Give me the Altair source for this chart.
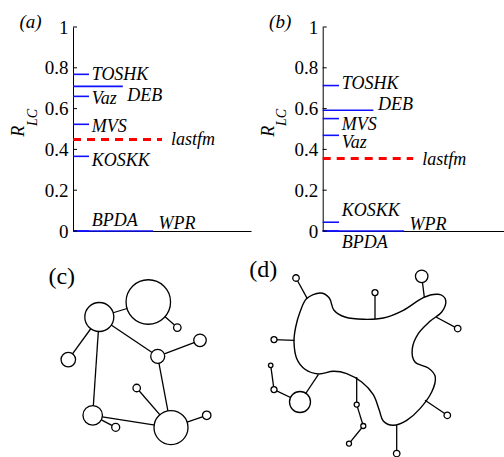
import altair as alt
import pandas as pd

FONT = "Liberation Serif"
BLUE = "#1010ff"

# ---------------- panels (a) and (b): R_LC per method ----------------
methods = ["TOSHK", "DEB", "Vaz", "MVS", "KOSKK", "BPDA", "WPR"]
rlc_a = [0.768, 0.709, 0.660, 0.523, 0.366, 0.0, 0.0]
rlc_b = [0.713, 0.592, 0.469, 0.551, 0.043, 0.0, 0.0]
line_len = [0.09, 0.28, 0.09, 0.09, 0.09, 0.09, 0.45]
label_x = [0.105, 0.305, 0.105, 0.105, 0.105, 0.105, 0.48]
label_y_a = [0.763, 0.660, 0.648, 0.510, 0.342, 0.048, 0.033]
label_y_b = [0.720, 0.620, 0.430, 0.520, 0.096, -0.060, 0.030]

ref_name = ["lastfm"]
ref_a = [0.448]
ref_b = [0.355]
ref_len = [0.5]
ref_label_x = [0.55]
ref_label_y_a = [0.445]
ref_label_y_b = [0.349]

yticks = [0, 0.2, 0.4, 0.6, 0.8, 1]

# ---------------- panel (c): small network ----------------
c_x = [148.3, 99.3, 177.3, 68.3, 157.7, 200.0, 136.7, 92.7, 115.7, 171.0, 206.7]
c_y = [158.3, 143.3, 132.7, 100.7, 104.0, 120.0, 72.3, 45.0, 33.0, 32.7, 45.0]
c_d = [44.5, 29.0, 7.5, 14.5, 14.0, 12.5, 7.5, 19.5, 8.0, 34.0, 8.5]
c_src = [1, 0, 1, 1, 4, 1, 4, 6, 7, 7, 9]
c_dst = [0, 2, 3, 4, 5, 7, 9, 9, 9, 8, 10]

# ---------------- panel (d): community blob with satellites ----------------
blob_x = [306.7, 320.0, 329.3, 334.0, 345.0, 363.3, 383.3, 403.3, 423.3, 438.3,
          445.7, 441.7, 430.0, 418.3, 412.3, 415.0, 428.3, 435.3, 431.7, 420.0,
          406.7, 393.3, 383.3, 379.3, 373.3, 361.7, 346.7, 333.3, 318.3, 305.0,
          296.7, 294.0, 295.7, 300.0]
blob_y = [161.7, 167.3, 162.3, 150.0, 143.3, 141.0, 142.3, 150.0, 162.7, 166.0,
          160.0, 148.3, 139.0, 126.7, 111.7, 98.3, 92.3, 83.3, 68.3, 51.7,
          40.0, 35.0, 39.3, 50.0, 65.7, 78.3, 86.7, 89.0, 86.3, 91.0,
          101.7, 118.3, 133.3, 148.3]
d_x = [296.0, 375.0, 421.7, 457.7, 274.0, 300.0, 274.0, 270.7, 356.7, 363.3, 349.0, 447.3, 396.7]
d_y = [182.3, 167.7, 184.0, 131.7, 120.7, 58.3, 70.7, 95.0, 55.7, 34.3, 16.7, 45.0, 6.7]
d_d = [6.5, 6.0, 12.5, 6.5, 6.0, 21.0, 6.0, 4.5, 5.0, 5.0, 5.0, 6.5, 6.5]
stub_x1 = [307.3, 375.0, 424.3, 436.0, 294.3, 318.3, 300.0, 274.0, 356.7, 356.7, 363.3, 425.0, 396.7]
stub_y1 = [161.7, 141.3, 163.3, 143.3, 120.0, 85.7, 58.3, 70.7, 83.3, 55.7, 34.3, 60.0, 35.0]
stub_x2 = [296.0, 375.0, 421.7, 457.7, 274.0, 300.0, 274.0, 270.7, 356.7, 363.3, 349.0, 447.3, 396.7]
stub_y2 = [182.3, 167.7, 184.0, 131.7, 120.7, 58.3, 70.7, 95.0, 55.7, 34.3, 16.7, 45.0, 6.7]

W_A, W_B, H_TOP, H_BOT = 178, 181, 204, 212


def text_one(s, x, y, size, style="normal", angle=0):
    return alt.Chart(pd.DataFrame({"t": [s]})).mark_text(
        font=FONT, fontSize=size, fontStyle=style, angle=angle,
        align="center", baseline="middle", color="black"
    ).encode(text="t:N", x=alt.value(x), y=alt.value(y))


def rlc_panel(vals, lab_y, rv, rly, tag, width):
    xs = alt.Scale(domain=[0, 1])
    ys = alt.Scale(domain=[0, 1])
    df = pd.DataFrame({"method": methods, "rlc": vals, "x0": [0] * len(methods),
                       "len": line_len, "lx": label_x, "ly": lab_y})
    rf = pd.DataFrame({"name": ref_name, "rlc": rv, "x0": [0], "len": ref_len,
                       "lx": ref_label_x, "ly": rly})
    lines = alt.Chart(df).mark_rule(color=BLUE, strokeWidth=1.6).encode(
        x=alt.X("x0:Q", scale=xs,
                axis=alt.Axis(labels=False, ticks=False, title=None, grid=False,
                              domainColor="black", domainWidth=1)),
        x2="len:Q",
        y=alt.Y("rlc:Q", scale=ys,
                axis=alt.Axis(values=yticks, ticks=False, labelPadding=5, labelFont=FONT,
                              labelFontSize=19, labelColor="black", format="~g",
                              title=None, grid=False, domainColor="black", domainWidth=1)),
    )
    ticks = alt.Chart(pd.DataFrame({"t": yticks})).mark_rule(color="black", strokeWidth=1).encode(
        y=alt.Y("t:Q", scale=ys), x=alt.value(0), x2=alt.value(4))
    labels = alt.Chart(df).mark_text(align="left", baseline="middle", font=FONT, fontSize=18,
                                     fontStyle="italic", color="black").encode(
        x=alt.X("lx:Q", scale=xs), y=alt.Y("ly:Q", scale=ys), text="method:N")
    rline = alt.Chart(rf).mark_rule(color="#ff0000", strokeWidth=3, strokeDash=[8, 6]).encode(
        x=alt.X("x0:Q", scale=xs), x2="len:Q", y=alt.Y("rlc:Q", scale=ys))
    rtext = alt.Chart(rf).mark_text(align="left", baseline="middle", font=FONT, fontSize=18,
                                    fontStyle="italic", color="black").encode(
        x=alt.X("lx:Q", scale=xs), y=alt.Y("ly:Q", scale=ys), text="name:N")
    return alt.layer(
        lines, ticks, rline, labels, rtext,
        text_one(tag, -42.5, -5.4, 19, "italic"),
        text_one("R", -54, 104.3, 18, "italic", 270),
        text_one("LC", -40.5, 90.5, 14, "italic", 270),
    ).properties(width=width, height=H_TOP)


def circle_layer(df, xs, ys):
    return alt.Chart(df).mark_point(shape="circle", filled=True, fill="white", stroke="black",
                                    strokeWidth=1.3, opacity=1, fillOpacity=1, strokeOpacity=1).encode(
        x=alt.X("x:Q", scale=xs, axis=None), y=alt.Y("y:Q", scale=ys, axis=None),
        size=alt.Size("s:Q", scale=None, legend=None))


def edge_layer(df, xs, ys):
    return alt.Chart(df).mark_rule(color="black", strokeWidth=1.3).encode(
        x=alt.X("x:Q", scale=xs, axis=None), y=alt.Y("y:Q", scale=ys, axis=None),
        x2="x2:Q", y2="y2:Q")


ys_net = alt.Scale(domain=[3.3, 215.3])

# panel (c)
xs_c = alt.Scale(domain=[73, 251])
c_nodes = pd.DataFrame({"x": c_x, "y": c_y, "s": [d * d for d in c_d]})
c_edges = pd.DataFrame({"x": [c_x[i] for i in c_src], "y": [c_y[i] for i in c_src],
                        "x2": [c_x[j] for j in c_dst], "y2": [c_y[j] for j in c_dst]})
panel_c = alt.layer(
    edge_layer(c_edges, xs_c, ys_net),
    circle_layer(c_nodes, xs_c, ys_net),
    text_one("(c)", -11.3, 32, 24),
).properties(width=W_A, height=H_BOT)

# panel (d)
xs_d = alt.Scale(domain=[322.7, 503.7])
blob = pd.DataFrame({"x": blob_x, "y": blob_y, "i": list(range(len(blob_x)))})
d_nodes = pd.DataFrame({"x": d_x, "y": d_y, "s": [d * d for d in d_d]})
d_edges = pd.DataFrame({"x": stub_x1, "y": stub_y1, "x2": stub_x2, "y2": stub_y2})
blob_line = alt.Chart(blob).mark_line(interpolate="cardinal-closed", color="black", strokeWidth=1.4).encode(
    x=alt.X("x:Q", scale=xs_d, axis=None), y=alt.Y("y:Q", scale=ys_net, axis=None),
    order="i:Q")
panel_d = alt.layer(
    edge_layer(d_edges, xs_d, ys_net),
    blob_line,
    circle_layer(d_nodes, xs_d, ys_net),
    text_one("(d)", -59.4, 25.3, 24),
).properties(width=W_B, height=H_BOT)

panel_a = rlc_panel(rlc_a, label_y_a, ref_a, ref_label_y_a, "(a)", W_A)
panel_b = rlc_panel(rlc_b, label_y_b, ref_b, ref_label_y_b, "(b)", W_B)

chart = alt.concat(
    panel_a, panel_b, panel_c, panel_d, columns=2,
    spacing={"row": 14, "column": 71.7}, bounds="flush"
).properties(
    padding={"left": 10, "top": 12, "right": 0, "bottom": 0}
).configure_view(stroke=None)

chart.save("out.html", embed_options={"renderer": "svg", "actions": False})
